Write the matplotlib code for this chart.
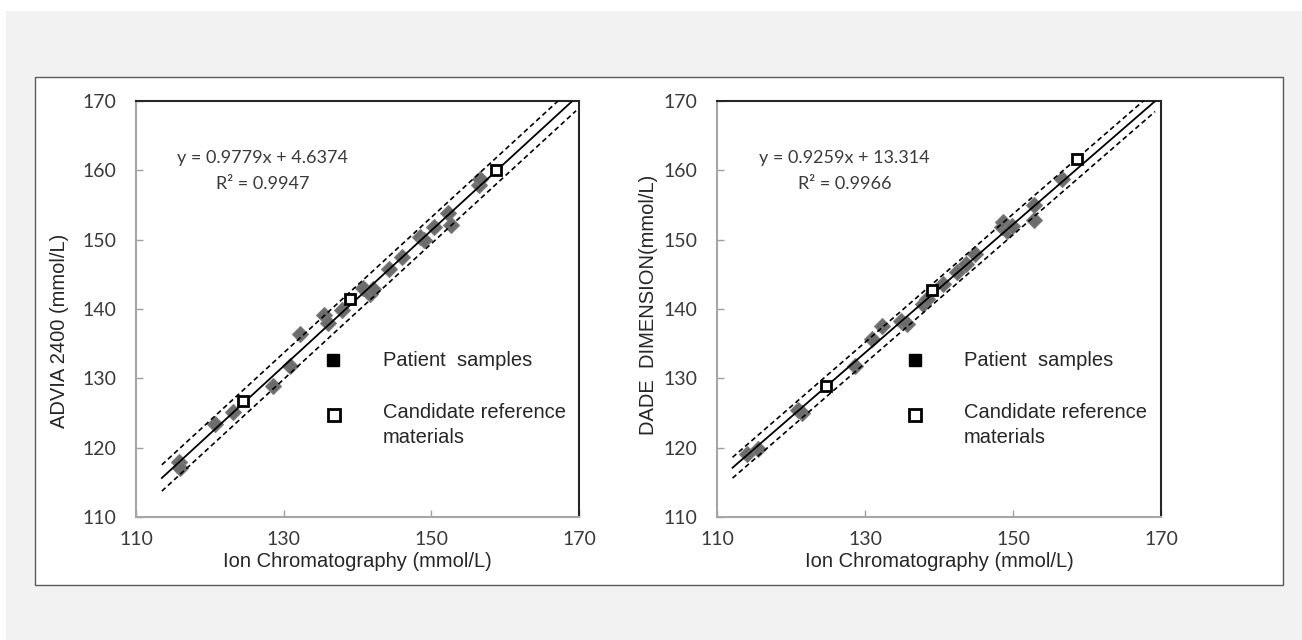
import numpy as np
import matplotlib
matplotlib.use("Agg")
import matplotlib.pyplot as plt
from matplotlib.patches import Rectangle

# ---- data ----
# ADVIA 2400 vs Ion Chromatography
advia_ic = [115.8, 116.0, 120.7, 123.2, 128.6, 130.9, 132.2, 135.4, 136.0, 137.9,
            140.8, 141.7, 142.1, 144.2, 146.0, 148.5, 149.0, 150.3, 152.3, 152.7,
            156.4, 156.6]
advia_val = [118.0, 117.0, 123.4, 125.1, 128.9, 131.8, 136.4, 139.2, 138.0, 139.8,
             143.1, 142.2, 142.9, 145.8, 147.5, 150.4, 150.0, 151.8, 153.8, 152.1,
             157.9, 158.8]
advia_ref_ic = [124.5, 139.0, 158.8]
advia_ref_val = [126.8, 141.5, 160.0]
advia_fit = (0.9779, 4.6374)
advia_r2 = 0.9947

# DADE DIMENSION vs Ion Chromatography
dade_ic = [114.1, 115.5, 121.0, 121.5, 128.7, 131.0, 132.3, 134.8, 135.7, 137.9,
           138.4, 140.6, 142.4, 143.6, 144.9, 148.5, 148.7, 149.2, 149.9, 152.8,
           152.8, 156.6]
dade_val = [119.1, 119.8, 125.5, 125.0, 131.8, 135.7, 137.6, 138.3, 137.8, 140.7,
            141.4, 143.6, 145.3, 146.5, 147.9, 151.8, 152.5, 151.3, 152.0, 155.0,
            152.8, 158.8]
dade_ref_ic = [124.7, 139.1, 158.6]
dade_ref_val = [128.9, 142.7, 161.7]
dade_fit = (0.9259, 13.314)
dade_r2 = 0.9966

xticks = [110, 130, 150, 170]
yticks = [110, 120, 130, 140, 150, 160, 170]

NUM_FONT = "Lato"
TXT_FONT = "Liberation Sans"


def draw_panel(ax, xs, ys, rxs, rys, fit, r2, x_range, band, ylabel):
    slope, icpt = fit
    ax.plot(xs, ys, linestyle="none", marker="D", markersize=8.3,
            color="#6c6c6c", markeredgecolor="#7d7d7d", markeredgewidth=0.8, zorder=2)

    lx = np.array(x_range)
    ly = slope * lx + icpt
    ax.plot(lx, ly, color="black", lw=1.3, zorder=3)
    ax.plot(lx, ly + band, color="black", lw=1.2, ls=(0, (3, 2)), zorder=3)
    ax.plot(lx, ly - band, color="black", lw=1.2, ls=(0, (3, 2)), zorder=3)

    ax.plot(rxs, rys, linestyle="none", marker="s", markersize=6.8,
            markerfacecolor="white", markeredgecolor="black", markeredgewidth=2, zorder=4)

    ax.set_xlim(110, 170)
    ax.set_ylim(110, 170)
    ax.set_xticks(xticks)
    ax.set_yticks(yticks)
    ax.tick_params(direction="in", length=5, width=1, color="#a0a0a0",
                   labelsize=14, labelcolor="#3a3a3a")
    ax.tick_params(axis="x", pad=10)
    ax.tick_params(axis="y", pad=14)
    for lab in ax.get_xticklabels() + ax.get_yticklabels():
        lab.set_fontfamily(NUM_FONT)

    for side in ("left", "bottom"):
        ax.spines[side].set_color("#a6a6a6")
        ax.spines[side].set_linewidth(1.5)
    for side in ("top", "right"):
        ax.spines[side].set_color("#262626")
        ax.spines[side].set_linewidth(1.5)

    ax.set_xlabel("Ion Chromatography (mmol/L)", fontsize=14.5, family=TXT_FONT,
                  color="#262626")
    ax.xaxis.label.set_va("center")
    ax.xaxis.set_label_coords(0.5, -0.108)
    ax.set_ylabel(ylabel, fontsize=14.5, family=TXT_FONT, color="#262626")
    ax.yaxis.label.set_va("center")

    ax.text(127.2, 161.8, f"y = {slope}x + {icpt}", ha="center", va="center",
            fontsize=13, family=NUM_FONT, color="#3a3a3a")
    ax.text(127.2, 158.1, f"R\u00b2 = {r2}", ha="center", va="center",
            fontsize=13, family=NUM_FONT, color="#3a3a3a")

    # hand-made legend
    ax.plot([136.7], [132.7], marker="s", markersize=8, color="black", linestyle="none")
    ax.plot([136.8], [124.75], marker="s", markersize=8.5, markerfacecolor="white",
            markeredgecolor="black", markeredgewidth=2, linestyle="none")
    ax.text(143.4, 132.5, "Patient  samples", ha="left", va="center",
            fontsize=14.5, family=TXT_FONT, color="#262626")
    ax.text(143.4, 125.1, "Candidate reference", ha="left", va="center",
            fontsize=14.5, family=TXT_FONT, color="#262626")
    ax.text(143.4, 121.5, "materials", ha="left", va="center",
            fontsize=14.5, family=TXT_FONT, color="#262626")


fig = plt.figure(figsize=(13.02, 6.4), dpi=100)
fig.patch.set_facecolor("white")

W, H = 1302.0, 640.0
fig.patches.append(Rectangle((6 / W, 0), 1 - 6 / W, 1 - 11 / H, transform=fig.transFigure,
                             facecolor="#f2f2f2", edgecolor="none", zorder=0))
fig.patches.append(Rectangle((35 / W, 1 - 585 / H), (1283 - 35) / W, (585 - 77) / H,
                             transform=fig.transFigure, facecolor="white",
                             edgecolor="#595959", lw=1.0, zorder=1))

ax1 = fig.add_axes([136 / W, 1 - 517 / H, 443 / W, 416 / H])
ax2 = fig.add_axes([717 / W, 1 - 517 / H, 444 / W, 416 / H])
for a in (ax1, ax2):
    a.set_facecolor("none")
    a.set_zorder(2)

draw_panel(ax1, advia_ic, advia_val, advia_ref_ic, advia_ref_val, advia_fit, advia_r2,
           [113.5, 169.6], 1.9, "ADVIA 2400 (mmol/L)")
ax1.yaxis.set_label_coords(-0.1716, 0.447)

draw_panel(ax2, dade_ic, dade_val, dade_ref_ic, dade_ref_val, dade_fit, dade_r2,
           [112.1, 169.2], 1.5, "DADE  DIMENSION(mmol/L)")
ax2.yaxis.set_label_coords(-0.155, 0.51)

fig.savefig("out.png", dpi=100)
